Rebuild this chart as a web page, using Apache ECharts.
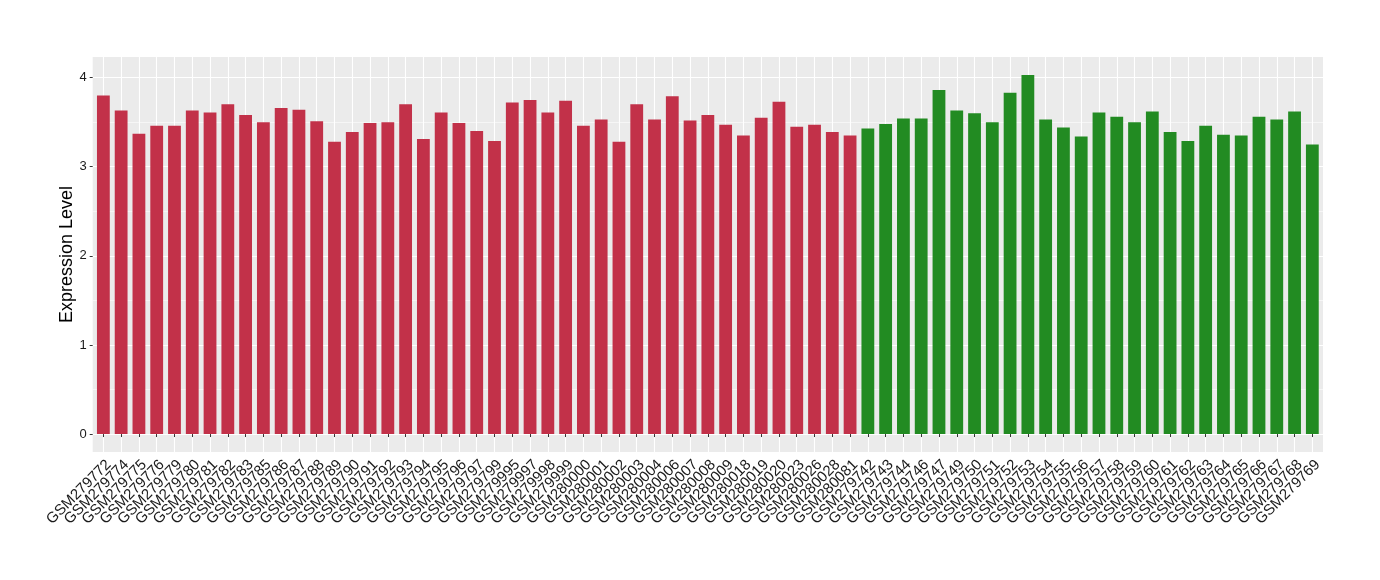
<!DOCTYPE html>
<html>
<head>
<meta charset="utf-8">
<script src="https://cdn.jsdelivr.net/npm/echarts@6/dist/echarts.min.js"></script>
<style>
  html, body { margin: 0; padding: 0; background: #fff; }
  #chart { width: 1380px; height: 580px; }
</style>
</head>
<body>
<div id="chart"></div>
<script>
const redSamples = ['GSM279772','GSM279774','GSM279775','GSM279776','GSM279779','GSM279780','GSM279781','GSM279782','GSM279783','GSM279785','GSM279786','GSM279787','GSM279788','GSM279789','GSM279790','GSM279791','GSM279792','GSM279793','GSM279794','GSM279795','GSM279796','GSM279797','GSM279799','GSM279995','GSM279997','GSM279998','GSM279999','GSM280000','GSM280001','GSM280002','GSM280003','GSM280004','GSM280006','GSM280007','GSM280008','GSM280009','GSM280018','GSM280019','GSM280020','GSM280023','GSM280026','GSM280028','GSM280081'];
const redValues = [3.80,3.63,3.37,3.46,3.46,3.63,3.61,3.70,3.58,3.50,3.66,3.64,3.51,3.28,3.39,3.49,3.50,3.70,3.31,3.61,3.49,3.40,3.29,3.72,3.75,3.61,3.74,3.46,3.53,3.28,3.70,3.53,3.79,3.52,3.58,3.47,3.35,3.55,3.73,3.45,3.47,3.39,3.35];
const greenSamples = ['GSM279742','GSM279743','GSM279744','GSM279746','GSM279747','GSM279749','GSM279750','GSM279751','GSM279752','GSM279753','GSM279754','GSM279755','GSM279756','GSM279757','GSM279758','GSM279759','GSM279760','GSM279761','GSM279762','GSM279763','GSM279764','GSM279765','GSM279766','GSM279767','GSM279768','GSM279769'];
const greenValues = [3.43,3.48,3.54,3.54,3.86,3.63,3.60,3.50,3.83,4.03,3.53,3.44,3.34,3.61,3.56,3.50,3.62,3.39,3.29,3.46,3.36,3.35,3.56,3.53,3.62,3.25];
const yTicks = [0, 1, 2, 3, 4];
const yTitle = 'Expression Level';

const RED = '#C23149';
const GREEN = '#228B22';

const categories = redSamples.concat(greenSamples);
const barData = redValues.map(v => ({ value: v, itemStyle: { color: RED } }))
  .concat(greenValues.map(v => ({ value: v, itemStyle: { color: GREEN } })));

// ggplot-like expansion of the value range
const allVals = redValues.concat(greenValues);
const dMax = Math.max(...allVals);
const yMin = -0.05 * dMax;
const yMax = dMax * 1.05;
const tickMin = yTicks[0], tickMax = yTicks[yTicks.length - 1];

// panel geometry
const PT = 57, PB = 452, PL = 92.7, PR = 1323;
const H = PB - PT;
const pxPer = H / (yMax - yMin);
const innerTop = PT + (yMax - tickMax) * pxPer;
const innerBottom = PB - (tickMin - yMin) * pxPer;
// discrete expansion of 0.6 units (ggplot) vs 0.5 (echarts band)
const n = categories.length;
const unit = (PR - PL) / (n - 1 + 1.2);
const BL = PL + 0.1 * unit, BR = PR - 0.1 * unit;

const FONT = 'Liberation Sans, Arial, Helvetica, sans-serif';

const chart = echarts.init(document.getElementById('chart'));
chart.setOption({
  animation: false,
  backgroundColor: '#FFFFFF',
  grid: [
    { left: PL, right: 1380 - PR, top: PT, bottom: 580 - PB, show: true, backgroundColor: '#EBEBEB', borderWidth: 0 },
    { left: PL, right: 1380 - PR, top: innerTop, bottom: 580 - innerBottom },
    { left: BL, right: 1380 - BR, top: PT, bottom: 580 - PB }
  ],
  xAxis: [
    { gridIndex: 0, type: 'value', show: false },
    { gridIndex: 1, type: 'value', show: false },
    {
      gridIndex: 2, type: 'category', data: categories, boundaryGap: true,
      axisLine: { show: false },
      axisTick: { show: true, alignWithLabel: true, length: 3, lineStyle: { color: '#333', width: 1 } },
      splitLine: { show: true, alignWithLabel: true, lineStyle: { color: '#FFFFFF', width: 1.1 } },
      axisLabel: { interval: 0, rotate: 45, margin: 5, align: 'right', verticalAlign: 'top', fontSize: 15, color: '#1A1A1A', fontFamily: FONT },
      z: 1
    }
  ],
  yAxis: [
    {
      gridIndex: 0, type: 'value', min: 0, max: 1,
      name: yTitle, nameLocation: 'middle', nameRotate: 90, nameGap: 17,
      nameTextStyle: { fontSize: 18, color: '#000', fontFamily: FONT },
      axisLine: { show: false }, axisTick: { show: false }, axisLabel: { show: false }, splitLine: { show: false }
    },
    {
      gridIndex: 1, type: 'value', min: tickMin, max: tickMax, interval: 1,
      axisLine: { show: false },
      axisTick: { show: true, length: 3, lineStyle: { color: '#333', width: 1 } },
      axisLabel: { margin: 6, fontSize: 13, color: '#1A1A1A', fontFamily: FONT },
      splitLine: { show: true, lineStyle: { color: '#FFFFFF', width: 1.1 } },
      z: 1
    },
    {
      gridIndex: 1, type: 'value', min: tickMin, max: tickMax, interval: 0.5,
      axisLine: { show: false }, axisTick: { show: false }, axisLabel: { show: false },
      splitLine: { show: true, lineStyle: { color: '#FFFFFF', width: 0.55 } }
    },
    { gridIndex: 2, type: 'value', min: yMin, max: yMax, show: false }
  ],
  series: [{
    type: 'bar',
    xAxisIndex: 2, yAxisIndex: 3,
    data: barData,
    barWidth: '72%',
    z: 3
  }]
});
</script>
</body>
</html>
